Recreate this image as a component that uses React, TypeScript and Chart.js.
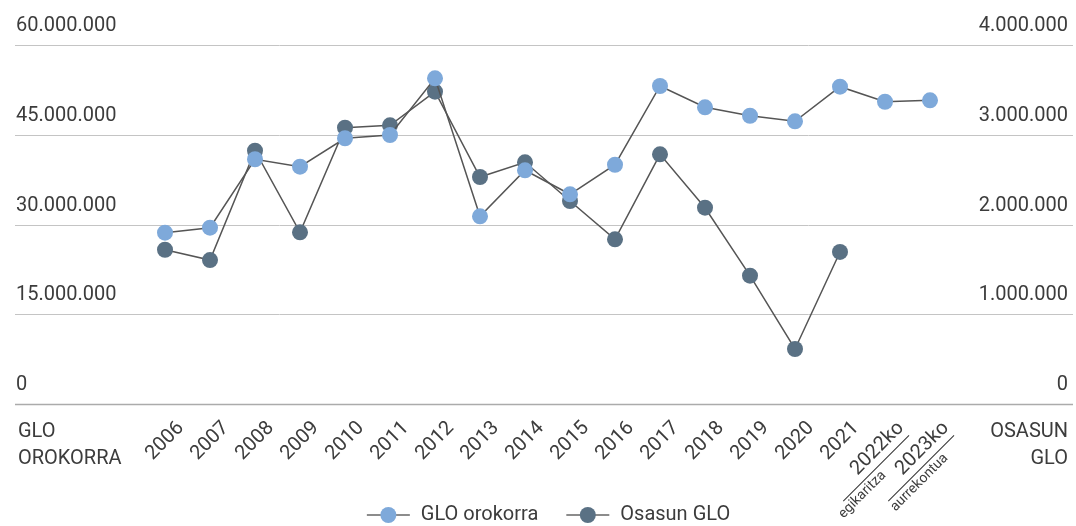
import React, { useEffect, useRef } from "react";
import { Chart, registerables } from "chart.js";

Chart.register(...registerables);

const categories = [
  "2006", "2007", "2008", "2009", "2010", "2011", "2012", "2013", "2014",
  "2015", "2016", "2017", "2018", "2019", "2020", "2021", "2022ko", "2023ko",
];
const categorySubLabels = [
  "", "", "", "", "", "", "", "", "", "", "", "", "", "", "", "",
  "egikaritza", "aurrekontua",
];

const gloOrokorra = [
  28630000, 29470000, 40900000, 39660000, 44410000, 44960000, 54430000,
  31370000, 39060000, 35050000, 39990000, 53150000, 49590000, 48180000,
  47250000, 53030000, 50520000, 50760000,
];
const osasunGlo = [
  1719000, 1604000, 2822000, 1913000, 3079000, 3105000, 3480000, 2529000,
  2693000, 2262000, 1835000, 2782000, 2187000, 1430000, 613000, 1694000,
  null, null,
];

const leftTicks = [0, 15000000, 30000000, 45000000, 60000000];
const rightTicks = [0, 1000000, 2000000, 3000000, 4000000];
const leftAxisTitle = ["GLO", "OROKORRA"];
const rightAxisTitle = ["OSASUN", "GLO"];
const seriesNames = ["GLO orokorra", "Osasun GLO"];

const FONT = "Roboto, 'DejaVu Sans', sans-serif";
const TEXT = "#3c3c3c";
const LIGHT = "#7ea9da";
const DARK = "#5a7184";
const LINE = "#555555";

function fmt(v: number): string {
  const s = Math.round(v).toString();
  return s.replace(/\B(?=(\d{3})+(?!\d))/g, ".");
}

const decorPlugin = {
  id: "decor",
  beforeDatasetsDraw(chart: any) {
    const ctx = chart.ctx;
    const y = chart.scales.y;
    ctx.save();
    leftTicks.forEach((t, i) => {
      const py = Math.round(y.getPixelForValue(t)) + 0.5;
      ctx.strokeStyle = i === 0 ? "#ababab" : "#c4c4c4";
      ctx.lineWidth = i === 0 ? 1.5 : 1;
      ctx.beginPath();
      ctx.moveTo(15, py);
      ctx.lineTo(1073, py);
      ctx.stroke();
    });
    ctx.restore();
  },
  afterDraw(chart: any) {
    const ctx = chart.ctx;
    const y = chart.scales.y;
    const y1 = chart.scales.y1;
    const x = chart.scales.x;
    ctx.save();
    ctx.fillStyle = TEXT;
    ctx.font = `20px ${FONT}`;
    ctx.textBaseline = "alphabetic";
    ctx.textAlign = "left";
    leftTicks.forEach((t) => {
      const py = y.getPixelForValue(t);
      ctx.fillText(fmt(t), 16, py - 14);
    });
    ctx.textAlign = "right";
    rightTicks.forEach((t) => {
      const py = y1.getPixelForValue(t);
      ctx.fillText(fmt(t), 1068, py - 14);
    });
    ctx.textAlign = "left";
    leftAxisTitle.forEach((s, i) => ctx.fillText(s, 18, 437 + i * 27));
    ctx.textAlign = "right";
    rightAxisTitle.forEach((s, i) => ctx.fillText(s, 1068, 437 + i * 27));

    let subCount = 0;
    categories.forEach((c, i) => {
      const px = x.getPixelForValue(i);
      ctx.save();
      ctx.translate(px, 441);
      ctx.rotate(-Math.PI / 4);
      ctx.font = `20px ${FONT}`;
      ctx.textAlign = "right";
      ctx.textBaseline = "middle";
      ctx.fillStyle = TEXT;
      ctx.fillText(c, 22.5, 0);
      const sub = categorySubLabels[i];
      if (sub) {
        ctx.strokeStyle = "#333";
        ctx.lineWidth = 1;
        ctx.beginPath();
        ctx.moveTo(-72, 13);
        ctx.lineTo(21, 13);
        ctx.stroke();
        ctx.font = `14px ${FONT}`;
        ctx.textAlign = "center";
        ctx.textBaseline = "middle";
        ctx.fillText(sub, subCount === 0 ? -54 : -37, 22);
        subCount++;
      }
      ctx.restore();
    });

    const colors = [LIGHT, DARK];
    ctx.font = `20px ${FONT}`;
    ctx.textAlign = "left";
    ctx.textBaseline = "middle";
    const widths = seriesNames.map((s) => 43 + 11 + ctx.measureText(s).width);
    const gap = 28;
    const total = widths.reduce((a, b) => a + b, 0) + gap * (widths.length - 1);
    let lx = 548.5 - total / 2;
    const ly = 515;
    seriesNames.forEach((s, i) => {
      ctx.strokeStyle = "#666";
      ctx.lineWidth = 1.5;
      ctx.beginPath();
      ctx.moveTo(lx, ly);
      ctx.lineTo(lx + 43, ly);
      ctx.stroke();
      ctx.fillStyle = colors[i];
      ctx.beginPath();
      ctx.arc(lx + 21.5, ly, 8, 0, Math.PI * 2);
      ctx.fill();
      ctx.fillStyle = TEXT;
      ctx.fillText(s, lx + 54, ly);
      lx += widths[i] + gap;
    });
    ctx.restore();
  },
};

export default function App() {
  const ref = useRef<HTMLCanvasElement | null>(null);
  useEffect(() => {
    if (!ref.current) return;
    const chart = new Chart(ref.current, {
      type: "line",
      data: {
        labels: categories,
        datasets: [
          {
            label: seriesNames[0],
            data: gloOrokorra,
            yAxisID: "y",
            borderColor: LINE,
            borderWidth: 1.5,
            backgroundColor: LIGHT,
            pointBackgroundColor: LIGHT,
            pointBorderWidth: 0,
            pointRadius: 8,
            pointHoverRadius: 8,
            tension: 0,
            clip: false,
          },
          {
            label: seriesNames[1],
            data: osasunGlo,
            yAxisID: "y1",
            borderColor: LINE,
            borderWidth: 1.5,
            backgroundColor: DARK,
            pointBackgroundColor: DARK,
            pointBorderWidth: 0,
            pointRadius: 8,
            pointHoverRadius: 8,
            tension: 0,
            spanGaps: false,
            clip: false,
          },
        ],
      },
      options: {
        responsive: false,
        animation: false,
        layout: { padding: { left: 165, right: 146, top: 45, bottom: 122 } },
        plugins: { legend: { display: false }, tooltip: { enabled: false } },
        scales: {
          x: { type: "category", offset: false, display: false },
          y: { type: "linear", min: 0, max: 60000000, display: false },
          y1: { type: "linear", position: "right", min: 0, max: 4000000, display: false },
        },
      },
      plugins: [decorPlugin],
    });
    return () => chart.destroy();
  }, []);
  return (
    <div style={{ position: "fixed", left: 0, top: 0, width: 1076, height: 526 }}>
      <canvas ref={ref} width={1076} height={526} style={{ display: "block" }} />
    </div>
  );
}
